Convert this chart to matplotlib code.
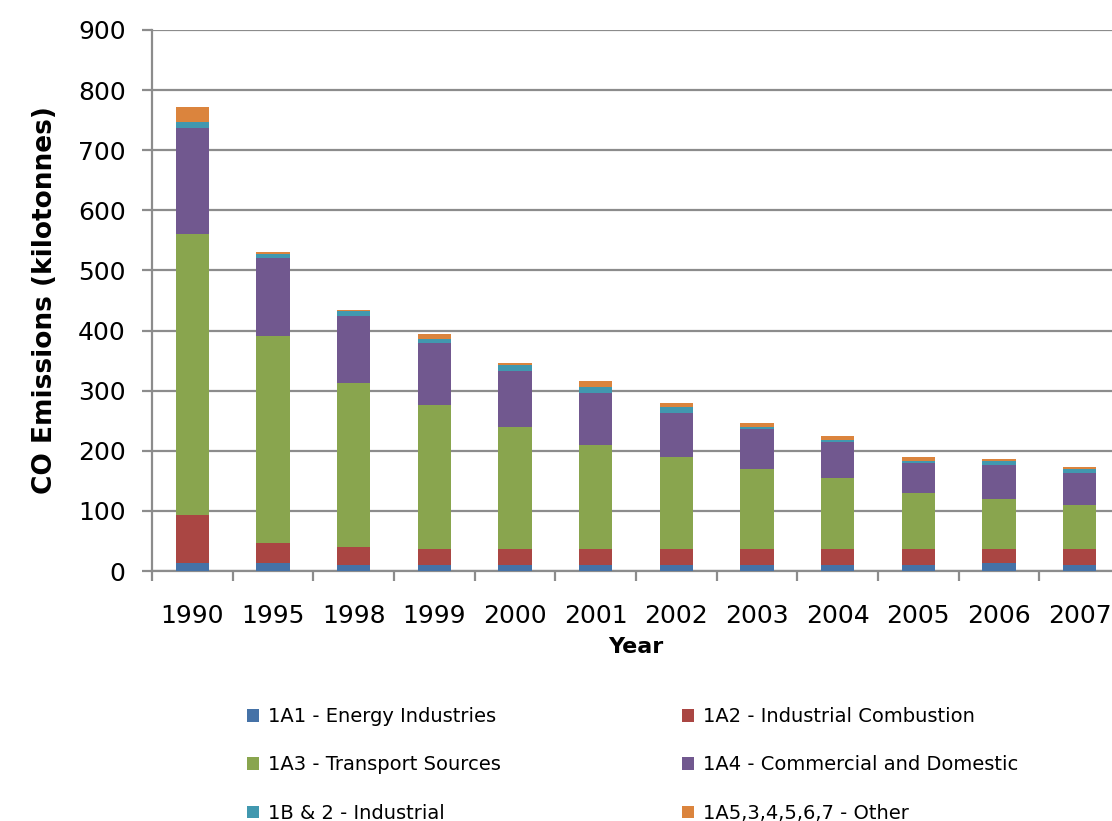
import numpy as np
import matplotlib
matplotlib.use("Agg")
import matplotlib.pyplot as plt

years = ["1990", "1995", "1998", "1999", "2000", "2001", "2002", "2003",
         "2004", "2005", "2006", "2007"]

energy_industries = [13, 13, 10, 10, 10, 10, 10, 10, 10, 10, 13.4, 10]
industrial_combustion = [80, 33, 30, 26.5, 26.5, 26.5, 26.5, 26.5, 27, 27, 23.6, 27]
transport_sources = [468, 345, 272, 239, 203, 173, 153, 133, 117, 93, 83, 73]
commercial_domestic = [176, 129, 113, 103, 93, 86.4, 73, 66.5, 60, 50, 57, 53.4]
industrial_1b2 = [10, 7, 7, 6.7, 10, 10, 10, 3.3, 3.3, 3.3, 6.7, 6.7]
other = [25, 3, 3, 8.3, 3.3, 10, 6.7, 6.6, 6.7, 6.7, 3.3, 3.3]

series = [
    ("1A1 - Energy Industries", energy_industries, "#4572A7"),
    ("1A2 - Industrial Combustion", industrial_combustion, "#AA4643"),
    ("1A3 - Transport Sources", transport_sources, "#89A54E"),
    ("1A4 - Commercial and Domestic", commercial_domestic, "#71588F"),
    ("1B & 2 - Industrial", industrial_1b2, "#4198AF"),
    ("1A5,3,4,5,6,7 - Other", other, "#DB843D"),
]

fig = plt.figure(figsize=(11.12, 8.21), dpi=100)
ax = fig.add_axes([0.1367, 0.3045, 0.8705, 0.659])

x = np.arange(len(years))
bottom = np.zeros(len(years))
handles = []
for label, vals, color in series:
    vals = np.asarray(vals, dtype=float)
    h = ax.bar(x, vals, width=0.41, bottom=bottom, color=color, label=label,
               zorder=3, linewidth=0)
    handles.append(h)
    bottom += vals

grid_color = "#8c8c8c"
ax.set_ylim(0, 900)
ax.set_yticks(np.arange(0, 901, 100))
ax.set_xlim(-0.5, len(years) - 0.5)
ax.yaxis.grid(True, color=grid_color, linewidth=1.6, zorder=0)
ax.set_axisbelow(True)

for side in ("top", "right"):
    ax.spines[side].set_visible(False)
for side in ("left", "bottom"):
    ax.spines[side].set_color(grid_color)
    ax.spines[side].set_linewidth(1.6)

ax.set_xticks(x)
ax.set_xticklabels(years)
ax.set_xticks(np.arange(-0.5, len(years), 1.0), minor=True)
ax.tick_params(axis="x", which="major", length=0, pad=24, labelsize=18)
ax.tick_params(axis="x", which="minor", length=7, width=1.6, color=grid_color)
ax.tick_params(axis="y", length=7, width=1.6, color=grid_color, labelsize=18, pad=12)

ax.set_xlabel("Year", fontsize=16, fontweight="bold", labelpad=6)
ax.set_ylabel("CO Emissions (kilotonnes)", fontsize=19, fontweight="bold", labelpad=14)

order = [0, 2, 4, 1, 3, 5]
leg = fig.legend([handles[i] for i in order], [series[i][0] for i in order],
                 ncol=2, loc="upper left", bbox_to_anchor=(0.215, 0.148),
                 frameon=False, fontsize=14, handlelength=0.6, handleheight=0.6,
                 handletextpad=0.5, columnspacing=9.3, labelspacing=1.5,
                 borderaxespad=0)

fig.savefig("out.png", dpi=100)
